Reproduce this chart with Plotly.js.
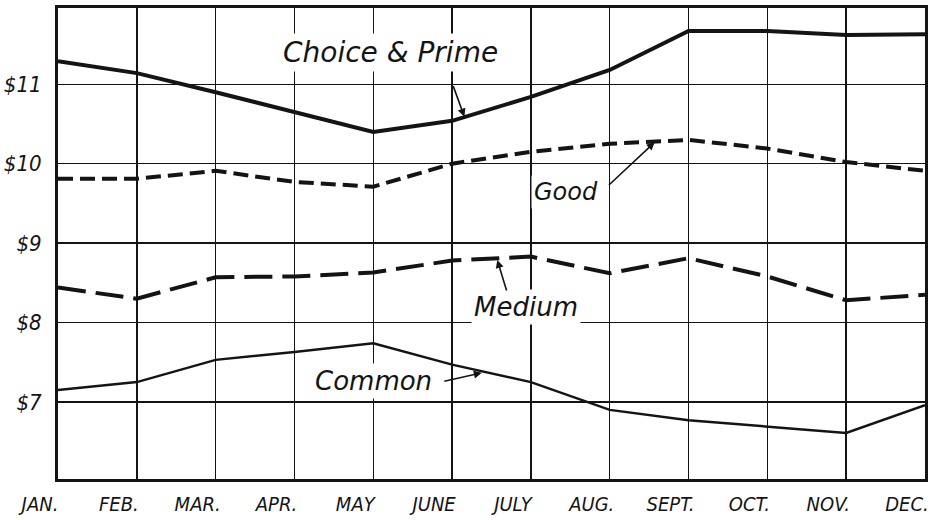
<!DOCTYPE html>
<html>
<head>
<meta charset="utf-8">
<script src="https://cdn.plot.ly/plotly-3.0.1.min.js"></script>
<style>html,body{margin:0;padding:0;background:#fff;}#chart{width:933px;height:520px;}</style>
</head>
<body>
<div id="chart"></div>
<script>
// ---- data ----
var months = ["JAN.","FEB.","MAR.","APR.","MAY","JUNE","JULY","AUG.","SEPT.","OCT.","NOV.","DEC."];
var choicePrime = [11.29,11.14,10.90,10.65,10.40,10.54,10.84,11.18,11.67,11.67,11.62,11.63];
var good        = [9.81,9.81,9.91,9.77,9.71,10.00,10.15,10.25,10.30,10.19,10.02,9.91];
var medium      = [8.44,8.30,8.57,8.58,8.63,8.78,8.83,8.62,8.81,8.58,8.28,8.35];
var common      = [7.15,7.25,7.53,7.63,7.74,7.47,7.25,6.90,6.77,6.69,6.61,6.96];
var yTickVals   = [7,8,9,10,11];
var yTickText   = ["$7","$8","$9","$10","$11"];

var ink = "#141414";
var handFont = "DejaVu Sans, sans-serif";
var tickFont = "Liberation Sans Narrow, DejaVu Sans Condensed, Liberation Sans, sans-serif";

var traces = [
  {x: months, y: choicePrime, mode: "lines", name: "Choice & Prime",
   line: {color: ink, width: 4}},
  {x: months, y: good, mode: "lines", name: "Good",
   line: {color: ink, width: 4, dash: "15px,7px"}},
  {x: months, y: medium, mode: "lines", name: "Medium",
   line: {color: ink, width: 4, dash: "28px,10px"}},
  {x: months, y: common, mode: "lines", name: "Common",
   line: {color: ink, width: 2.5}}
];

function label(text, xi, yv, size) {
  return {x: xi, y: yv, xref: "x", yref: "y", text: text, showarrow: false,
          bgcolor: "#ffffff", borderpad: 2,
          font: {family: handFont, size: size, color: ink, style: "italic"}};
}
function arrow(xi, yv, ax, ay) {
  return {x: xi, y: yv, xref: "x", yref: "y", text: "", showarrow: true,
          arrowhead: 2, arrowsize: 1, arrowwidth: 1.6, arrowcolor: ink,
          ax: ax, ay: ay, standoff: 1};
}

var layout = {
  width: 933, height: 520,
  margin: {l: 58, r: 8, t: 8, b: 41},
  paper_bgcolor: "#ffffff", plot_bgcolor: "#ffffff",
  showlegend: false,
  xaxis: {
    type: "category", range: [0, 11],
    showgrid: true, gridcolor: ink, gridwidth: 1.5,
    showline: true, linecolor: ink, linewidth: 3, mirror: true,
    ticks: "", ticklabelstandoff: 5, ticklabelshift: -18,
    tickfont: {family: tickFont, size: 20, color: ink, style: "italic"},
    zeroline: false, fixedrange: true
  },
  yaxis: {
    range: [6.03, 11.96],
    tickvals: yTickVals, ticktext: yTickText,
    showgrid: true, gridcolor: ink, gridwidth: 1.5,
    showline: true, linecolor: ink, linewidth: 3, mirror: true,
    ticks: "", ticklabelstandoff: 9,
    tickfont: {family: tickFont, size: 22, color: ink, style: "italic"},
    zeroline: false, fixedrange: true
  },
  annotations: [
    label("Choice &amp; Prime", 4.22, 11.4, 28),
    arrow(5.16, 10.58, -12, -33),
    label("Good", 6.45, 9.64, 24),
    arrow(7.58, 10.28, -48, 45),
    label("Medium", 5.94, 8.19, 26),
    arrow(5.57, 8.80, 10, 33),
    label("Common", 4.0, 7.26, 26),
    arrow(5.39, 7.37, -40, 9)
  ]
};

Plotly.newPlot("chart", traces, layout, {displayModeBar: false, staticPlot: true});
</script>
</body>
</html>
